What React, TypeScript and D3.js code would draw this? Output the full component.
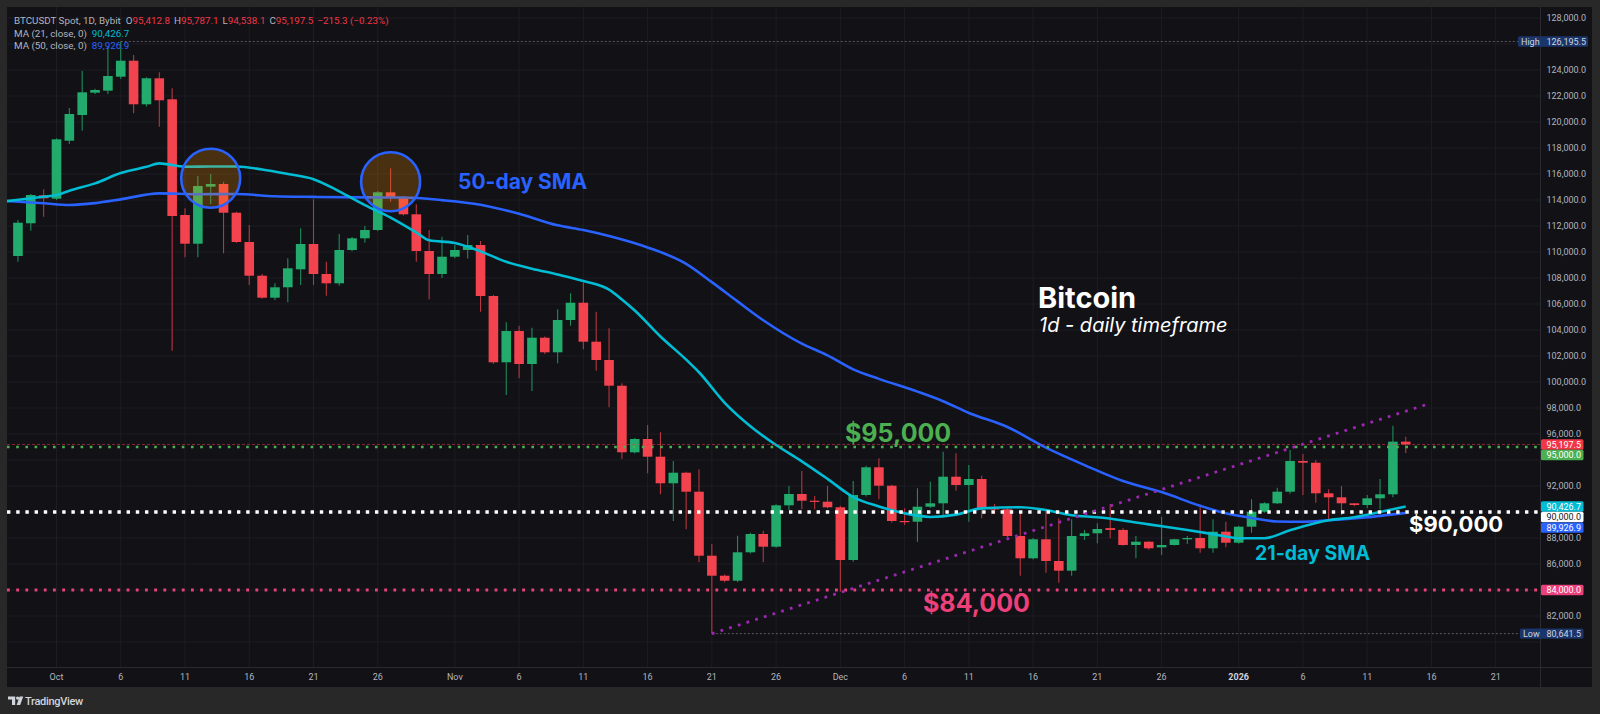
import React from "react";
import * as d3 from "d3";

// ---------------- DATA ----------------
const startDate = "2025-09-28"; // first daily candle
const opens = [
  109692, 112208, 114362, 114100, 118561, 120538, 122254, 122408, 123485, 124715,
  121362, 123362, 121746, 112846, 110638, 115023, 115231, 113023, 110769, 108177,
  106485, 107285, 108669, 110615, 108308, 107592, 110154, 111054, 111692, 114592,
  114177, 112900, 110077, 108308, 109638, 110154, 110538, 106615, 101515, 103923,
  101385, 103408, 102285, 104769, 106100, 103100, 101692, 99715, 94592, 95615,
  94254, 92208, 93023, 91562, 86638, 85100, 84715, 86900, 88308, 87331,
  90515, 91385, 90869, 90792, 90362, 86308, 91308, 93438, 92023, 89308,
  89254, 90408, 90669, 92715, 92077, 92538, 90285, 90208, 88154, 86438,
  87900, 86231, 85485, 88154, 88362, 88760, 88620, 87462, 87715, 87280,
  87462, 87900, 88000, 87208, 88485, 87638, 88869, 90023, 90669, 91562,
  93923, 93792, 91438, 91131, 90669, 90538, 91054, 91362, 95412.8,
];
const highs = [
  112462, 114462, 114823, 118746, 121077, 123923, 122550, 125792, 126195.5, 125154,
  123450, 123823, 122592, 113362, 115846, 116000, 115408, 113100, 112077, 108300,
  107592, 109515, 111823, 114054, 109254, 111385, 111150, 112000, 114700, 116438,
  114300, 113669, 111692, 111177, 110538, 111308, 110846, 106700, 104592, 104331,
  104177, 103500, 105592, 106823, 107638, 105408, 104131, 99900, 95700, 96692,
  96131, 93923, 93100, 93285, 87538, 85200, 88177, 88400, 88562, 90600,
  92000, 93154, 91231, 92000, 90485, 92385, 93550, 94131, 92100, 90285,
  91823, 92331, 94638, 94515, 93615, 92792, 90615, 90300, 89900, 88000,
  90154, 89515, 89438, 88615, 89131, 90615, 88750, 88154, 87750, 89638,
  87950, 88154, 90538, 89438, 89254, 88950, 90977, 90750, 91869, 94769,
  94462, 94000, 91746, 92000, 90680, 91308, 92538, 96638, 95787.1,
];
const lows = [
  109254, 111638, 112715, 114000, 118308, 119331, 122150, 122154, 123300, 120669,
  121200, 119638, 102408, 109592, 109592, 113692, 109900, 110700, 107462, 106400,
  106308, 106131, 107462, 107462, 106638, 107400, 110050, 110715, 111600, 113869,
  112800, 109254, 106362, 108000, 109515, 109500, 105408, 101400, 99000, 100285,
  99308, 102150, 101438, 104331, 102515, 100869, 98054, 94077, 94500, 92977,
  91362, 89308, 88669, 86131, 80641.5, 84600, 84600, 86800, 86131, 87250,
  90154, 90208, 90208, 90285, 83869, 86177, 91200, 90977, 89200, 89000,
  87715, 90300, 89769, 91638, 89254, 89515, 89846, 88050, 85100, 86350,
  85331, 84562, 85100, 87846, 87592, 87977, 87400, 86438, 87100, 86692,
  87420, 87538, 86869, 86869, 87285, 87550, 88408, 89950, 90615, 91400,
  91308, 90715, 89385, 89769, 90450, 90285, 90208, 91131, 94538.1,
];
const closes = [
  112254, 114385, 114131, 118669, 120615, 122285, 122462, 123538, 124715, 121362,
  123362, 121669, 112769, 110638, 115077, 115231, 113023, 110769, 108177, 106485,
  107285, 108746, 110615, 108308, 107592, 110154, 111054, 111692, 114592, 114177,
  112900, 110077, 108308, 109638, 110154, 110538, 106615, 101515, 103923, 101385,
  103408, 102285, 104769, 106100, 103100, 101692, 99715, 94592, 95615, 94254,
  92208, 93023, 91562, 86638, 85100, 84715, 86900, 88308, 87331, 90515,
  91385, 90869, 90792, 90362, 86308, 91308, 93438, 92023, 89308, 89254,
  90408, 90669, 92715, 92077, 92538, 90285, 90208, 88154, 86438, 87900,
  86231, 85485, 88154, 88362, 88692, 88620, 87462, 87715, 87208, 87462,
  87900, 88000, 87208, 88485, 87638, 88869, 90023, 90669, 91562, 93923,
  93792, 91438, 91131, 90669, 90538, 91054, 91362, 95412.8, 95197.5,
];

const ma21Dates = [
  "2025-09-27", "2025-09-30", "2025-10-01", "2025-10-02", "2025-10-04", "2025-10-06", "2025-10-08", "2025-10-09",
  "2025-10-11", "2025-10-13", "2025-10-15", "2025-10-17", "2025-10-19", "2025-10-21", "2025-10-23", "2025-10-25",
  "2025-10-27", "2025-10-29", "2025-10-30", "2025-11-01", "2025-11-03", "2025-11-05", "2025-11-07", "2025-11-09",
  "2025-11-11", "2025-11-13", "2025-11-14", "2025-11-15", "2025-11-17", "2025-11-19", "2025-11-20", "2025-11-22",
  "2025-11-24", "2025-11-26", "2025-11-28", "2025-11-30", "2025-12-02", "2025-12-04", "2025-12-06", "2025-12-08",
  "2025-12-10", "2025-12-12", "2025-12-15", "2025-12-17", "2025-12-19", "2025-12-21", "2025-12-23", "2025-12-25",
  "2025-12-28", "2025-12-30", "2026-01-01", "2026-01-03", "2026-01-05", "2026-01-08", "2026-01-10", "2026-01-12",
  "2026-01-14",
];
const ma21Values = [
  113900, 114250, 114380, 114720, 115280, 116070, 116550, 116820,
  116560, 116580, 116580, 116350, 116000, 115600, 114670, 113600,
  112650, 111500, 110900, 110700, 110050, 109250, 108720, 108270,
  107770, 107100, 106350, 105500, 103500, 101720, 100750, 98400,
  96600, 95150, 93900, 92550, 91150, 90430, 89900, 89620,
  89800, 90280, 90360, 90150, 89750, 89590, 89350, 89050,
  88610, 88300, 87980, 87980, 88600, 89360, 89600, 90000,
  90426.7,
];

const ma50Dates = [
  "2025-09-27", "2025-09-30", "2025-10-02", "2025-10-04", "2025-10-06", "2025-10-09", "2025-10-12", "2025-10-15",
  "2025-10-18", "2025-10-21", "2025-10-25", "2025-10-28", "2025-10-31", "2025-11-03", "2025-11-06", "2025-11-09",
  "2025-11-11", "2025-11-13", "2025-11-16", "2025-11-19", "2025-11-21", "2025-11-23", "2025-11-25", "2025-11-28",
  "2025-11-30", "2025-12-02", "2025-12-04", "2025-12-07", "2025-12-09", "2025-12-11", "2025-12-14", "2025-12-17",
  "2025-12-20", "2025-12-23", "2025-12-26", "2025-12-29", "2025-12-31", "2026-01-02", "2026-01-04", "2026-01-06",
  "2026-01-08", "2026-01-11", "2026-01-13", "2026-01-14",
];
const ma50Values = [
  113930, 113750, 113620, 113760, 114050, 114510, 114440, 114460,
  114290, 114240, 114200, 114190, 113990, 113640, 112940, 112050,
  111690, 111230, 110350, 109090, 107680, 106200, 104750, 102950,
  102050, 100970, 100240, 99260, 98520, 97620, 96540, 94950,
  93610, 92380, 91530, 90480, 89900, 89540, 89270, 89250,
  89360, 89590, 89820, 89926.9,
];

const trendDates = ["2025-11-21T00:00:00Z", "2026-01-15T18:00:00Z"];
const trendValues = [80641.5, 98308];

const levelValues = [95000, 90000, 84000];
const levelLabels = ["$95,000", "$90,000", "$84,000"];

const circleDates = ["2025-10-13", "2025-10-27"];
const circleValues = [115669, 115408];

const timeTickDates = [
  "2025-10-01", "2025-10-06", "2025-10-11", "2025-10-16", "2025-10-21", "2025-10-26",
  "2025-11-01", "2025-11-06", "2025-11-11", "2025-11-16", "2025-11-21", "2025-11-26",
  "2025-12-01", "2025-12-06", "2025-12-11", "2025-12-16", "2025-12-21", "2025-12-26",
  "2026-01-01", "2026-01-06", "2026-01-11", "2026-01-16", "2026-01-21",
];
const timeTickLabels = [
  "Oct", "6", "11", "16", "21", "26",
  "Nov", "6", "11", "16", "21", "26",
  "Dec", "6", "11", "16", "21", "26",
  "2026", "6", "11", "16", "21",
];

const priceTicks = d3.range(80000, 128001, 2000);

const lastOpen = 95412.8, lastHigh = 95787.1, lastLow = 94538.1, lastClose = 95197.5;
const lastChange = -215.3, lastChangePct = -0.23;
const ma21Last = 90426.7, ma50Last = 89926.9;
const allHigh = 126195.5, allLow = 80641.5;
const highDate = "2025-10-06", lowDate = "2025-11-21";

// ---------------- STYLE ----------------
const FRAME = "#282828";
const BG = "#111116";
const GRID = "#1d1d22";
const UP = "#22ab6c";
const DOWN = "#f2434f";
const UP_WICK = "#1d8c58";
const DOWN_WICK = "#b8363f";
const C21 = "#00bcd4";
const C50 = "#2962ff";
const GREEN = "#4caf50";
const PINK = "#ec407a";
const PURPLE = "#9c27b0";
const AXIS_TXT = "#b2b5be";
const UI_FONT = "Roboto, 'Noto Sans', sans-serif";
const ANN_FONT = "Inter, 'Noto Sans', sans-serif";

const PL = 7, PR = 1540, PT = 7, PB = 667, AXR = 1592, TAB = 687;

const parse = (s: string) => (s.length > 10 ? new Date(s) : (d3.utcParse("%Y-%m-%d")(s) as Date));

export default function App() {
  const x = d3
    .scaleUtc()
    .domain([parse("2025-10-01"), parse("2026-01-21")])
    .range([56.5, 56.5 + 112 * 12.85]);
  const y = d3.scaleLinear().domain([80000, 124000]).range([642, 70]);

  const start = parse(startDate);
  const candles = opens.map((o, i) => ({
    date: d3.utcDay.offset(start, i),
    o,
    h: highs[i],
    l: lows[i],
    c: closes[i],
  }));

  const bodyW = 9.6;
  const fmt = d3.format(",.1f");

  const lineGen = d3
    .line<{ d: Date; v: number }>()
    .x((p) => x(p.d))
    .y((p) => y(p.v))
    .curve(d3.curveMonotoneX);

  const ma21 = ma21Dates.map((s, i) => ({ d: parse(s), v: ma21Values[i] }));
  const ma50 = ma50Dates.map((s, i) => ({ d: parse(s), v: ma50Values[i] }));

  // badges on price axis with simple collision avoidance
  const badgeH = 10.4;
  const badgeDefs = [
    { v: lastClose, bg: "#f23645", fg: "#ffffff" },
    { v: 95000, bg: GREEN, fg: "#ffffff" },
    { v: ma21Last, bg: C21, fg: "#ffffff" },
    { v: 90000, bg: "#ffffff", fg: "#131722" },
    { v: ma50Last, bg: C50, fg: "#ffffff" },
    { v: 84000, bg: PINK, fg: "#ffffff" },
  ].map((b) => ({ ...b, cy: y(b.v) }));
  badgeDefs.sort((a, b) => a.cy - b.cy);
  for (let i = 1; i < badgeDefs.length; i++) {
    if (badgeDefs[i].cy < badgeDefs[i - 1].cy + 10.6) badgeDefs[i].cy = badgeDefs[i - 1].cy + 10.6;
  }
  const occupied = [...badgeDefs.map((b) => b.cy), y(allHigh), y(allLow)];
  const visibleTicks = priceTicks.filter((t) => occupied.every((cy) => Math.abs(y(t) - cy) > 9.5));

  const levelColors = [GREEN, "#ffffff", PINK];
  const levelDash = ["2.6 6.6", "3.4 5.8", "2.8 6.4"];
  const levelWidth = [2.6, 3.4, 2.8];

  const legendY1 = 23.5, legendY2 = 36.8, legendY3 = 49.2;

  return (
    <svg
      width={1600}
      height={714}
      viewBox="0 0 1600 714"
      style={{ position: "fixed", left: 0, top: 0, display: "block" }}
    >
      <defs>
        <clipPath id="plotClip">
          <rect x={PL} y={PT} width={PR - PL} height={PB - PT} />
        </clipPath>
      </defs>
      <rect x={0} y={0} width={1600} height={714} fill={FRAME} />
      <rect x={PL} y={PT} width={AXR - PL} height={TAB - PT} fill={BG} />

      {/* grid */}
      <g clipPath="url(#plotClip)">
        {priceTicks.map((t) => (
          <line key={"hg" + t} x1={PL} x2={PR} y1={y(t)} y2={y(t)} stroke={GRID} strokeWidth={1} />
        ))}
        {timeTickDates.map((s) => (
          <line key={"vg" + s} x1={x(parse(s))} x2={x(parse(s))} y1={PT} y2={PB} stroke={GRID} strokeWidth={1} />
        ))}
      </g>

      {/* axes frames */}
      <line x1={PR + 0.5} x2={PR + 0.5} y1={PT} y2={TAB} stroke="#2a2a30" strokeWidth={1} />
      <line x1={PL} x2={AXR} y1={PB + 0.5} y2={PB + 0.5} stroke="#2a2a30" strokeWidth={1} />

      <g clipPath="url(#plotClip)">
        {/* high / low markers */}
        <line
          x1={x(parse(highDate))}
          x2={PR}
          y1={y(allHigh)}
          y2={y(allHigh)}
          stroke="#8a8d96"
          strokeOpacity={0.6}
          strokeWidth={1}
          strokeDasharray="2 2"
        />
        <line
          x1={x(parse(lowDate))}
          x2={PR}
          y1={y(allLow)}
          y2={y(allLow)}
          stroke="#8a8d96"
          strokeOpacity={0.6}
          strokeWidth={1}
          strokeDasharray="2 2"
        />

        {/* candles */}
        {candles.map((k, i) => {
          const cx = x(k.date);
          const up = k.c >= k.o;
          const top = y(Math.max(k.o, k.c));
          const bot = y(Math.min(k.o, k.c));
          return (
            <g key={"c" + i}>
              <line
                x1={cx}
                x2={cx}
                y1={y(k.h)}
                y2={y(k.l)}
                stroke={up ? UP_WICK : DOWN_WICK}
                strokeWidth={1.1}
              />
              <rect
                x={cx - bodyW / 2}
                y={top}
                width={bodyW}
                height={Math.max(1.2, bot - top)}
                fill={up ? UP : DOWN}
              />
            </g>
          );
        })}

        {/* moving averages */}
        <path d={lineGen(ma50) || ""} fill="none" stroke={C50} strokeWidth={2.6} strokeLinejoin="round" />
        <path d={lineGen(ma21) || ""} fill="none" stroke={C21} strokeWidth={2.6} strokeLinejoin="round" />

        {/* current price line */}
        <line
          x1={PL}
          x2={PR}
          y1={y(lastClose)}
          y2={y(lastClose)}
          stroke="#f23645"
          strokeOpacity={0.55}
          strokeWidth={1}
          strokeDasharray="3 2"
        />

        {/* level lines */}
        {levelValues.map((v, i) => (
          <line
            key={"lv" + v}
            x1={PL}
            x2={PR}
            y1={y(v)}
            y2={y(v)}
            stroke={levelColors[i]}
            strokeWidth={levelWidth[i]}
            strokeDasharray={levelDash[i]}
          />
        ))}

        {/* trend line */}
        <line
          x1={x(parse(trendDates[0]))}
          y1={y(trendValues[0])}
          x2={x(parse(trendDates[1]))}
          y2={y(trendValues[1])}
          stroke={PURPLE}
          strokeWidth={2.8}
          strokeDasharray="2.8 6.3"
        />

        {/* circles */}
        {circleDates.map((s, i) => (
          <circle
            key={"ci" + s}
            cx={x(parse(s))}
            cy={y(circleValues[i])}
            r={29.5}
            fill="rgba(255,152,0,0.24)"
            stroke={C50}
            strokeWidth={2.6}
          />
        ))}

        {/* annotations */}
        <text x={458} y={188.5} fill={C50} fontFamily={ANN_FONT} fontWeight={700} fontSize={21}>
          50-day SMA
        </text>
        <text x={1255} y={559.7} fill={C21} fontFamily={ANN_FONT} fontWeight={700} fontSize={19.5}>
          21-day SMA
        </text>
        <text x={845} y={441.5} fill={GREEN} fontFamily={ANN_FONT} fontWeight={700} fontSize={25}>
          {levelLabels[0]}
        </text>
        <text x={1409} y={531.5} fill="#ffffff" fontFamily={ANN_FONT} fontWeight={700} fontSize={22}>
          {levelLabels[1]}
        </text>
        <text x={923} y={611.5} fill={PINK} fontFamily={ANN_FONT} fontWeight={700} fontSize={25}>
          {levelLabels[2]}
        </text>
        <text x={1038} y={308.3} fill="#ffffff" fontFamily={ANN_FONT} fontWeight={700} fontSize={29}>
          Bitcoin
        </text>
        <text x={1039} y={331.7} fill="#ffffff" fontFamily={ANN_FONT} fontStyle="italic" fontSize={20}>
          1d - daily timeframe
        </text>
      </g>

      {/* legend */}
      <g fontFamily={UI_FONT} fontSize={9.8}>
        <text x={14} y={legendY1} fill={AXIS_TXT}>
          <tspan>BTCUSDT Spot, 1D, Bybit</tspan>
          <tspan dx={5}>O</tspan>
          <tspan fill="#f23645">{fmt(lastOpen)}</tspan>
          <tspan dx={4}>H</tspan>
          <tspan fill="#f23645">{fmt(lastHigh)}</tspan>
          <tspan dx={4}>L</tspan>
          <tspan fill="#f23645">{fmt(lastLow)}</tspan>
          <tspan dx={4}>C</tspan>
          <tspan fill="#f23645">{fmt(lastClose)}</tspan>
          <tspan dx={4} fill="#f23645">
            {"\u2212" + fmt(Math.abs(lastChange)) + " (\u2212" + Math.abs(lastChangePct).toFixed(2) + "%)"}
          </tspan>
        </text>
        <text x={14} y={legendY2} fill={AXIS_TXT}>
          <tspan>MA (21, close, 0)</tspan>
          <tspan dx={5} fill={C21}>{fmt(ma21Last)}</tspan>
        </text>
        <text x={14} y={legendY3} fill={AXIS_TXT}>
          <tspan>MA (50, close, 0)</tspan>
          <tspan dx={5} fill={C50}>{fmt(ma50Last)}</tspan>
        </text>
      </g>

      {/* price axis labels */}
      <g fontFamily={UI_FONT} fontSize={9}>
        {visibleTicks.map((t) => (
          <text key={"pt" + t} x={1546.5} y={y(t) + 3.2} fill={AXIS_TXT}>
            {fmt(t)}
          </text>
        ))}
      </g>

      {/* high / low badges */}
      <g fontFamily={UI_FONT} fontSize={9}>
        <rect x={1518} y={y(allHigh) - 5.2} width={70} height={10.4} rx={1.5} fill="#1a3569" />
        <text x={1521} y={y(allHigh) + 3.2} fill="#d1d4dc">High</text>
        <text x={1546.5} y={y(allHigh) + 3.2} fill="#d1d4dc">{fmt(allHigh)}</text>

        <rect x={1520} y={y(allLow) - 5.2} width={63.5} height={10.4} rx={1.5} fill="#1a3569" />
        <text x={1523} y={y(allLow) + 3.2} fill="#d1d4dc">Low</text>
        <text x={1546.5} y={y(allLow) + 3.2} fill="#d1d4dc">{fmt(allLow)}</text>
      </g>

      {/* value badges */}
      <g fontFamily={UI_FONT} fontSize={9}>
        {badgeDefs.map((b) => (
          <g key={"b" + b.v}>
            <rect x={1541} y={b.cy - badgeH / 2} width={42.5} height={badgeH} rx={1.5} fill={b.bg} />
            <text x={1546.5} y={b.cy + 3.2} fill={b.fg}>
              {fmt(b.v)}
            </text>
          </g>
        ))}
      </g>

      {/* time axis labels */}
      <g fontFamily={UI_FONT} fontSize={9} textAnchor="middle">
        {timeTickDates.map((s, i) => (
          <text
            key={"tt" + s}
            x={x(parse(s))}
            y={680}
            fill={timeTickLabels[i] === "2026" ? "#d1d4dc" : AXIS_TXT}
            fontWeight={timeTickLabels[i] === "2026" ? 700 : 400}
          >
            {timeTickLabels[i]}
          </text>
        ))}
      </g>

      {/* TradingView logo */}
      <g fill="#d1d4dc">
        <path d="M8 696.5 h7.2 v8.5 h-3.2 v-5.4 h-4 z" />
        <circle cx={17.6} cy={698.1} r={1.6} />
        <path d="M19.6 696.5 h3.6 l-3 8.5 h-3.6 z" />
        <text x={25} y={704.6} fontFamily={UI_FONT} fontSize={11} fontWeight={500} letterSpacing={-0.3}>
          TradingView
        </text>
      </g>
    </svg>
  );
}
